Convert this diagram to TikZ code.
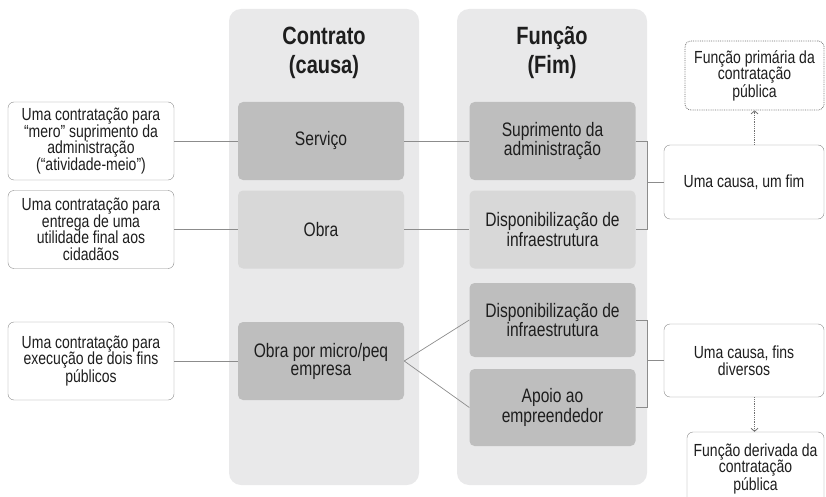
\documentclass[tikz,border=0pt]{standalone}
\usepackage{fontspec}
\setmainfont{Liberation Sans}[FakeStretch=0.8]
\usepackage{tikz}
\usetikzlibrary{arrows.meta, positioning, calc}
\definecolor{colBg}{RGB}{233, 233, 234}
\definecolor{boxDark}{RGB}{190, 190, 190}
\definecolor{boxLight}{RGB}{216, 216, 216}
\definecolor{lineGrey}{RGB}{140, 140, 140}
\definecolor{inkColor}{RGB}{30, 30, 30}

\begin{document}
\begin{tikzpicture}[x=1pt, y=-1pt,
    colbg/.style={fill=colBg, rounded corners=12pt, minimum width=190pt, minimum height=476pt},
    coltitle/.style={text=inkColor, align=center, font=\fontsize{25}{29}\selectfont\bfseries},
    darkbox/.style={fill=boxDark, rounded corners=5pt, minimum width=166pt, minimum height=78pt,
        text=inkColor, align=center, font=\fontsize{19.5}{18}\selectfont},
    lightbox/.style={darkbox, fill=boxLight},
    notebox/.style={draw=lineGrey, fill=white, rounded corners=6pt, minimum width=166pt,
        minimum height=78pt, text=inkColor, align=center, font=\fontsize{17.5}{16.5}\selectfont},
    link/.style={draw=lineGrey, line width=0.7pt},
    dotlink/.style={draw=lineGrey!80!black, line width=0.8pt, densely dotted, -{Straight Barb[length=3pt, width=7pt]}}
]
    \useasboundingbox (0,0) rectangle (826,497);

    % Columns
    \node[colbg] (colA) at (324,247) {};
    \node[colbg] (colB) at (552,247) {};
    \node[coltitle] (titleA) at (324,53) {Contrato\\(causa)};
    \node[coltitle] (titleB) at (552,53) {Função\\(Fim)};

    % Causes
    \node[darkbox] (servico) at (321,141) {Serviço};
    \node[lightbox] (obra) at (321,229.5) {Obra};
    \node[darkbox] (micro) at (321,361) {Obra por micro/peq\\empresa};

    % Ends
    \node[darkbox] (suprim) at (552.5,141) {Suprimento da\\administração};
    \node[lightbox] (infraA) at (552.5,229.5) {Disponibilização de\\infraestrutura};
    \node[darkbox, minimum height=74pt] (infraB) at (552.5,320) {Disponibilização de\\infraestrutura};
    \node[darkbox, minimum height=77pt] (apoio) at (552.5,407.5) {Apoio ao\\empreendedor};

    % Notes on the left
    \node[notebox] (noteA) at (91,141) {Uma contratação para\\“mero” suprimento da\\administração\\(“atividade-meio”)};
    \node[notebox] (noteB) at (91,229.5) {Uma contratação para\\entrega de uma\\utilidade final aos\\cidadãos};
    \node[notebox] (noteC) at (91,361) {Uma contratação para\\execução de dois fins\\públicos};

    % Notes on the right
    \node[notebox, minimum width=160pt, minimum height=74pt] (oneEnd) at (744,182) {Uma causa, um fim};
    \node[notebox, minimum width=160pt, minimum height=73pt] (manyEnds) at (744,360.5) {Uma causa, fins\\diversos};
    \node[notebox, draw=lineGrey!80!black, densely dotted, line width=0.8pt, minimum width=139pt,
        minimum height=69pt] (primaria) at (754.5,75.5) {Função primária da\\contratação\\pública};
    \node[notebox, minimum width=137pt, minimum height=74pt] (derivada) at (755.5,469)
        {Função derivada da\\contratação\\pública};

    % Links
    \draw[link] (noteA.east) -- (servico.west);
    \draw[link] (noteB.east) -- (obra.west);
    \draw[link] (noteC.east) -- (micro.west);
    \draw[link] (servico.east) -- (suprim.west);
    \draw[link] (obra.east) -- (infraA.west);
    \draw[link] (micro.east) -- (infraB.west);
    \draw[link] (micro.east) -- (apoio.west);

    % Brackets
    \draw[link] (suprim.east) -- ++(12,0) coordinate (brA) |- (infraA.east);
    \draw[link] (brA |- oneEnd.west) -- (oneEnd.west);
    \draw[link] (infraB.east) -- ++(12,0) coordinate (brB) |- (apoio.east);
    \draw[link] (brB |- manyEnds.west) -- (manyEnds.west);

    % Dotted arrows
    \draw[dotlink] (primaria.south |- oneEnd.north) -- (primaria.south);
    \draw[dotlink] (primaria.south |- manyEnds.south) -- (derivada.north -| primaria.south);
\end{tikzpicture}
\end{document}
